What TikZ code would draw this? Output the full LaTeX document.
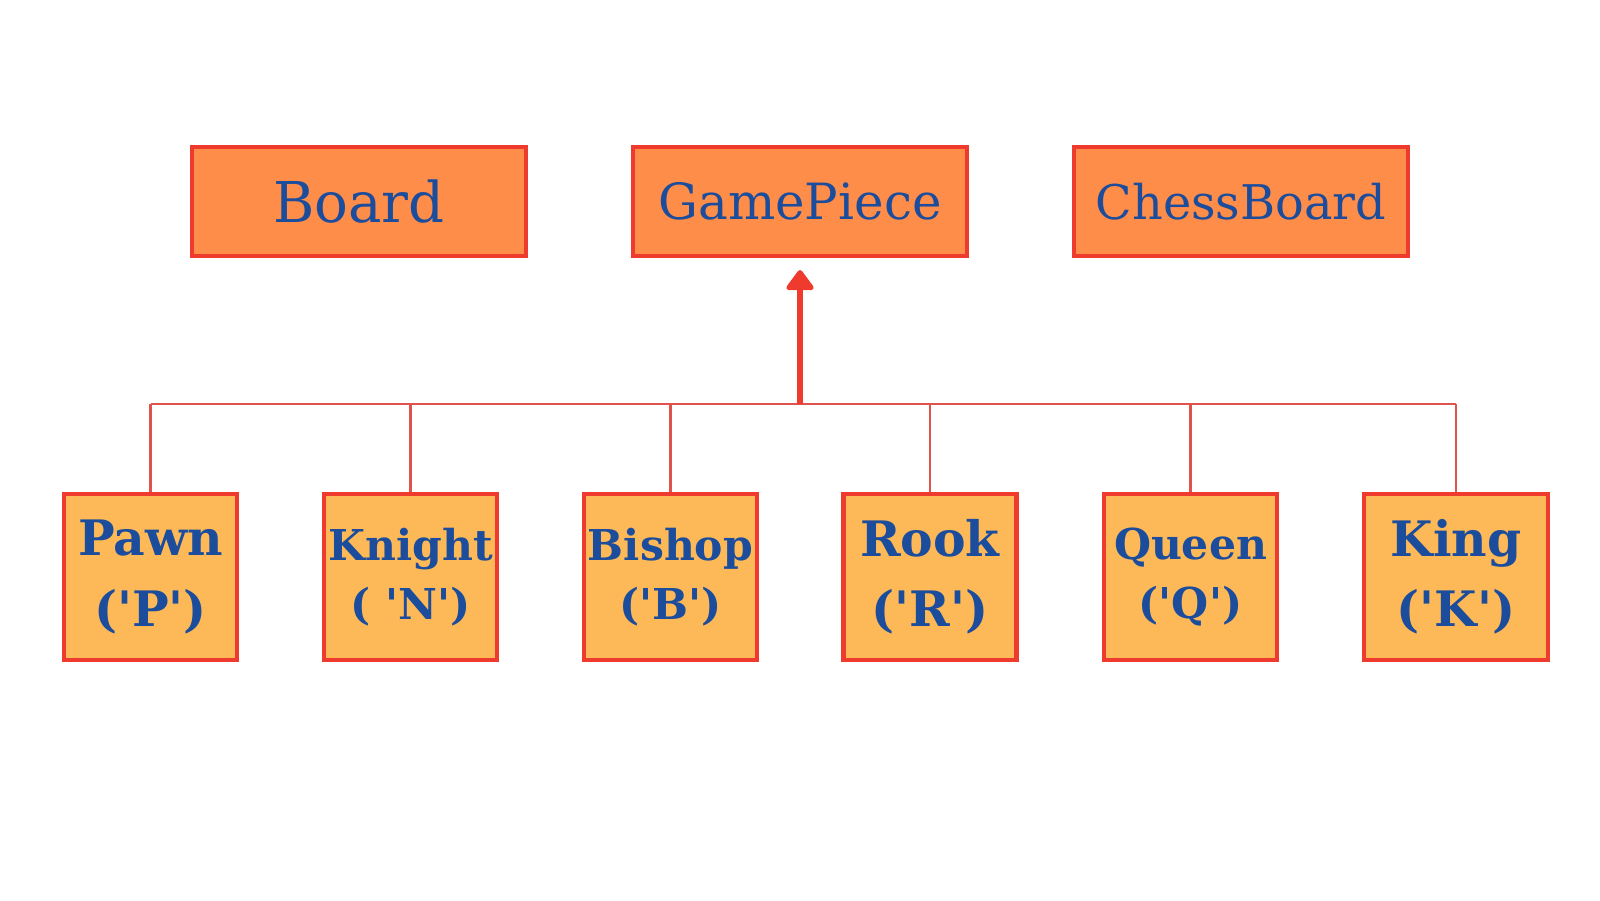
\documentclass[tikz,border=0pt]{standalone}
\usepackage{fontspec}
\setmainfont{DejaVu Serif}
\usetikzlibrary{arrows.meta,positioning}
\definecolor{boxred}{HTML}{EE3B2E}
\definecolor{classfill}{HTML}{FF8D4A}
\definecolor{piecefill}{HTML}{FDB958}
\definecolor{textblue}{HTML}{1B4D9C}
\definecolor{busred}{HTML}{E0524C}
\newcommand{\qt}[1]{\textquotesingle#1\textquotesingle}

\begin{document}
\begin{tikzpicture}[
    classbox/.style={draw=boxred,fill=classfill,line width=1.2pt,text=textblue,
        minimum width=3.34cm,minimum height=1.09cm,inner sep=0pt},
    piecebox/.style={draw=boxred,fill=piecefill,line width=1.2pt,text=textblue,
        minimum width=1.73cm,minimum height=1.66cm,inner sep=0pt,align=center,font=\bfseries},
    bigtxt/.style={font=\bfseries\fontsize{13.9}{20}\selectfont},
    smalltxt/.style={font=\bfseries\fontsize{12.1}{16.6}\selectfont},
    bus/.style={busred,line width=0.6pt},
    inherit/.style={boxred,line width=1.45pt,-{Triangle[width=0.31cm,length=0.22cm,round]}}
]
    \useasboundingbox (0,0) rectangle (16,9);

    % Top classes
    \node[classbox,font=\fontsize{16}{19}\selectfont] (board) at (3.59,6.985) {Board};
    \node[classbox,font=\fontsize{14.2}{17}\selectfont] (gp) at (8.00,6.985) {GamePiece};
    \node[classbox,font=\fontsize{13.6}{17}\selectfont] (chess) at (12.41,6.985) {ChessBoard};

    % Pieces
    \node[piecebox,bigtxt] (pawn) at (1.505,3.23) {Pawn\\(\qt{P})};
    \node[piecebox,smalltxt] (knight) at (4.105,3.23) {Knight\\( \qt{N})};
    \node[piecebox,smalltxt] (bishop) at (6.705,3.23) {Bishop\\(\qt{B})};
    \node[piecebox,bigtxt] (rook) at (9.30,3.23) {Rook\\(\qt{R})};
    \node[piecebox,smalltxt] (queen) at (11.905,3.23) {Queen\\(\qt{Q})};
    \node[piecebox,bigtxt,minimum width=1.84cm] (king) at (14.56,3.23) {King\\(\qt{K})};

    % Bus and inheritance arrow
    \coordinate (hub) at (8.00,4.96);
    \draw[bus] (pawn.north |- hub) -- (king.north |- hub);
    \foreach \p in {pawn,knight,bishop,rook,queen,king}
        \draw[bus] (\p.north |- hub) -- (\p.north);
    \draw[inherit,shorten >=0.12cm] (hub) -- (gp);
\end{tikzpicture}
\end{document}
